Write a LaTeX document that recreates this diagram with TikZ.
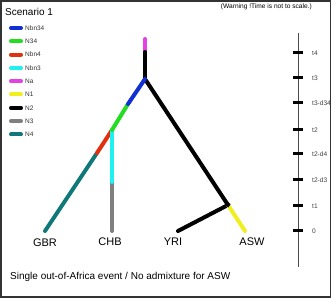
\documentclass[tikz,border=0pt]{standalone}
\usepackage{fontspec}
\setmainfont{Liberation Sans}
\definecolor{cNbnxxxiv}{RGB}{16,48,214}
\definecolor{cNxxxiv}{RGB}{34,221,34}
\definecolor{cNbniv}{RGB}{224,48,16}
\definecolor{cNbniii}{RGB}{32,240,240}
\definecolor{cNa}{RGB}{228,64,228}
\definecolor{cNi}{RGB}{240,240,32}
\definecolor{cNii}{RGB}{0,0,0}
\definecolor{cNiii}{RGB}{128,128,128}
\definecolor{cNiv}{RGB}{16,120,120}
\begin{document}
\begin{tikzpicture}[x=1pt,y=-1pt,
  branch/.style={line width=4pt,line cap=round},
  legline/.style={line width=4pt,line cap=round},
  leglabel/.style={anchor=west,inner sep=0pt,font=\fontsize{6.5}{7}\selectfont,text=black!80},
  leaf/.style={inner sep=0pt,font=\fontsize{11}{13}\selectfont},
  tick/.style={line width=3pt},
  ticklabel/.style={anchor=west,inner sep=0pt,font=\fontsize{6.6}{7}\selectfont,text=black!75}]
\useasboundingbox (0,0) rectangle (332,299);
\fill[white] (0,0) rectangle (332,299);
% titles
\node[anchor=west,inner sep=0pt,font=\fontsize{10}{12}\selectfont] (title) at (5,12) {Scenario 1};
\node[anchor=east,inner sep=0pt,font=\fontsize{6.6}{7}\selectfont] (warn) at (312,7) {(Warning !Time is not to scale.)};
\node[anchor=west,inner sep=0pt,font=\fontsize{10}{12}\selectfont] (caption) at (10,277) {Single out-of-Africa event / No admixture for ASW};
% legend
\foreach \c/\t [count=\i from 0] in {cNbnxxxiv/Nbn34,cNxxxiv/N34,cNbniv/Nbn4,cNbniii/Nbn3,cNa/Na,cNi/N1,cNii/N2,cNiii/N3,cNiv/N4}{
  \coordinate (la\i) at (11,28+13.3*\i);
  \coordinate (lb\i) at (21,28+13.3*\i);
  \draw[legline,\c] (la\i) -- (lb\i);
  \node[leglabel] (lt\i) at (25,28+13.3*\i) {\t};
}
% tree coordinates
\coordinate (natop) at (145,39);
\coordinate (nabot) at (145,52);
\coordinate (root) at (145,79);
\coordinate (b34) at (128,104);
\coordinate (j34) at (112,130);
\coordinate (b4) at (97,153);
\coordinate (gbr) at (45,231);
\coordinate (b3) at (112,182);
\coordinate (chb) at (112,231);
\coordinate (j1) at (228,205);
\coordinate (yri) at (178,231);
\coordinate (asw) at (245,231);
\draw[branch,cNa] (natop) -- (nabot);
\draw[branch,cNii] (nabot) -- (root);
\draw[branch,cNii] (root) -- (j1);
\draw[branch,cNii] (j1) -- (yri);
\draw[branch,cNi] (j1) -- (asw);
\draw[branch,cNiv] (b4) -- (gbr);
\draw[branch,cNbniv] (j34) -- (b4);
\draw[branch,cNiii] (b3) -- (chb);
\draw[branch,cNbniii] (j34) -- (b3);
\draw[branch,cNxxxiv] (b34) -- (j34);
\draw[branch,cNbnxxxiv] (root) -- (b34);
\draw[line width=4pt,cNii] (226,203.5) -- (229.5,205.8);
% leaf labels
\node[leaf] (lgbr) at (45,243) {GBR};
\node[leaf] (lchb) at (110,242) {CHB};
\node[leaf] (lyri) at (173,242) {YRI};
\node[leaf] (lasw) at (252,242) {ASW};
% time axis
\coordinate (axtop) at (298,33);
\coordinate (axbot) at (298,267);
\draw[black!70,line width=0.7pt] (axtop) -- (axbot);
\foreach \y/\t [count=\i] in {53/t4,78/t3,103/t3-d34,130/t2,154/t2-d4,180/t2-d3,206/t1,231/0}{
  \coordinate (ta\i) at (293,\y);
  \coordinate (tb\i) at (303,\y);
  \draw[tick] (ta\i) -- (tb\i);
  \node[ticklabel] (tl\i) at (312,\y) {\t};
}
% frame
\fill[white] (330.5,0) rectangle (332,299);
\draw[line width=1.5pt,black!80] (1,1) rectangle (330.5,297);
\end{tikzpicture}
\end{document}
